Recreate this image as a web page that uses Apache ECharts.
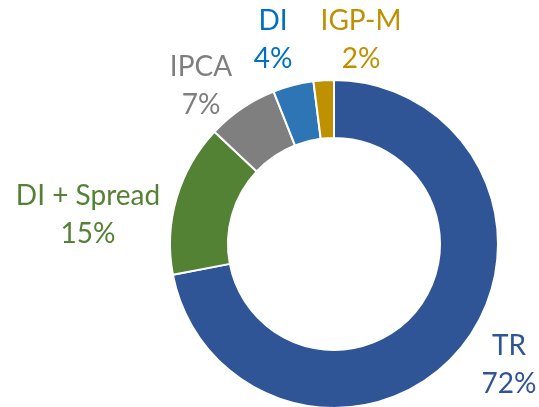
<!DOCTYPE html>
<html><head><meta charset="utf-8">
<script src="https://cdn.jsdelivr.net/npm/echarts@6/dist/echarts.min.js"></script>
<style>html,body{margin:0;padding:0;background:#fff}#c{width:539px;height:407px}</style>
</head><body><div id="c"></div>
<script>
const categories = ['TR', 'DI + Spread', 'IPCA', 'DI', 'IGP-M'];
const values = [72, 15, 7, 4, 2];
const sliceColors = ['#2F5597', '#548235', '#7F7F7F', '#2E75B6', '#BF9000'];
const labelColors = ['#2F5597', '#548235', '#7F7F7F', '#0070C0', '#BF9000'];
// label anchor offsets relative to pie centre (px)
const labelOffsets = [[175, 121], [-246, -29], [-133, -158], [-61, -204], [27, -204]];

const chart = echarts.init(document.getElementById('c'), null, {renderer: 'canvas'});
const cx = 334, cy = 244;
chart.setOption({
  animation: false,
  series: [{
    type: 'pie',
    center: [cx, cy],
    radius: [106, 164],
    startAngle: 90,
    clockwise: true,
    itemStyle: {borderColor: '#fff', borderWidth: 2},
    label: {
      show: true,
      position: 'outside',
      alignTo: 'none',
      overflow: 'none',
      formatter: p => p.name + '\n' + p.value + '%',
      fontFamily: 'Lato',
      fontSize: 28,
      lineHeight: 38,
      align: 'center'
    },
    labelLine: {show: false},
    labelLayout: p => {
      const o = labelOffsets[p.dataIndex];
      return {x: cx + o[0], y: cy + o[1], align: 'center', verticalAlign: 'middle'};
    },
    data: categories.map((n, i) => ({
      name: n, value: values[i],
      itemStyle: {color: sliceColors[i]},
      label: {color: labelColors[i]}
    }))
  }]
});
</script></body></html>
